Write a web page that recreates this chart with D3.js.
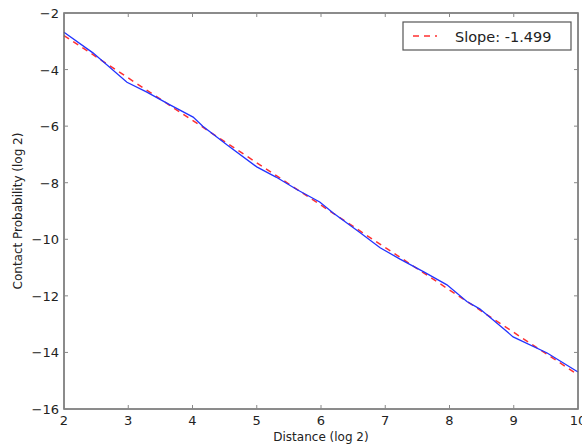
<!DOCTYPE html>
<html><head><meta charset="utf-8">
<script src="https://cdn.jsdelivr.net/npm/d3@7"></script>
<style>body{margin:0;background:#fff}svg{display:block}text{font-family:"DejaVu Sans",sans-serif;fill:#222}</style>
</head><body><svg id="c" width="582" height="447"></svg>
<script>
const xTicks = [2,3,4,5,6,7,8,9,10];
const yTicks = [-2,-4,-6,-8,-10,-12,-14,-16];
const distance = [2.0,2.45,2.98,3.29,3.65,4.01,4.16,4.54,5.0,5.3,5.63,5.98,6.19,6.6,6.92,7.23,7.6,7.96,8.27,8.47,8.68,8.99,9.52,10.0];
const contact = [-2.68,-3.41,-4.45,-4.8,-5.25,-5.68,-6.0,-6.67,-7.44,-7.8,-8.25,-8.68,-9.07,-9.75,-10.3,-10.7,-11.15,-11.61,-12.2,-12.46,-12.85,-13.45,-14.02,-14.69];
const slope = -1.499;
const intercept = 0.2;
const fitLabel = "Slope: -1.499";

const svg = d3.select("#c");
const L = 64, R = 578, T = 13, B = 409;
const x = d3.scaleLinear().domain([2,10]).range([L,R]);
const y = d3.scaleLinear().domain([-16,-2]).range([B,T]);

const g = svg.append("g");
// fit line
g.append("line").attr("x1",x(2)).attr("x2",x(10))
 .attr("y1",y(intercept+slope*2)).attr("y2",y(intercept+slope*10))
 .attr("stroke","#ff3030").attr("stroke-width",1.5).attr("stroke-dasharray","6,5");
// data curve
g.append("path").datum(distance.map((d,i)=>[d,contact[i]]))
 .attr("d",d3.line().x(d=>x(d[0])).y(d=>y(d[1])))
 .attr("fill","none").attr("stroke","#2233ff").attr("stroke-width",1.3);

// frame
svg.append("rect").attr("x",L).attr("y",T).attr("width",R-L).attr("height",B-T)
 .attr("fill","none").attr("stroke","#666").attr("stroke-width",1.5);

// ticks
const tk = svg.append("g");
xTicks.forEach(t=>{
  tk.append("line").attr("x1",x(t)).attr("x2",x(t)).attr("y1",B).attr("y2",B-4).attr("stroke","#888");
  tk.append("line").attr("x1",x(t)).attr("x2",x(t)).attr("y1",T).attr("y2",T+4).attr("stroke","#888");
  tk.append("text").attr("x",x(t)).attr("y",B+16).attr("text-anchor","middle").attr("font-size",13).text(t);
});
yTicks.forEach(t=>{
  tk.append("line").attr("x1",L).attr("x2",L+4).attr("y1",y(t)).attr("y2",y(t)).attr("stroke","#888");
  tk.append("line").attr("x1",R).attr("x2",R-4).attr("y1",y(t)).attr("y2",y(t)).attr("stroke","#888");
  tk.append("text").attr("x",L-5).attr("y",y(t)+5).attr("text-anchor","end").attr("font-size",13).text("\u2212"+Math.abs(t));
});

svg.append("text").attr("x",(L+R)/2).attr("y",441).attr("text-anchor","middle").attr("font-size",12).text("Distance (log 2)");
svg.append("text").attr("transform",`translate(22,${(T+B)/2}) rotate(-90)`).attr("text-anchor","middle").attr("font-size",12).text("Contact Probability (log 2)");

// legend
const lg = svg.append("g");
lg.append("rect").attr("x",403).attr("y",22).attr("width",168).attr("height",28).attr("fill","#fff").attr("stroke","#555").attr("stroke-width",1.2);
lg.append("line").attr("x1",413).attr("x2",437).attr("y1",36).attr("y2",36).attr("stroke","#ff3030").attr("stroke-width",1.5).attr("stroke-dasharray","6,5");
lg.append("text").attr("x",455).attr("y",41.5).attr("font-size",14.5).text(fitLabel);
</script></body></html>
